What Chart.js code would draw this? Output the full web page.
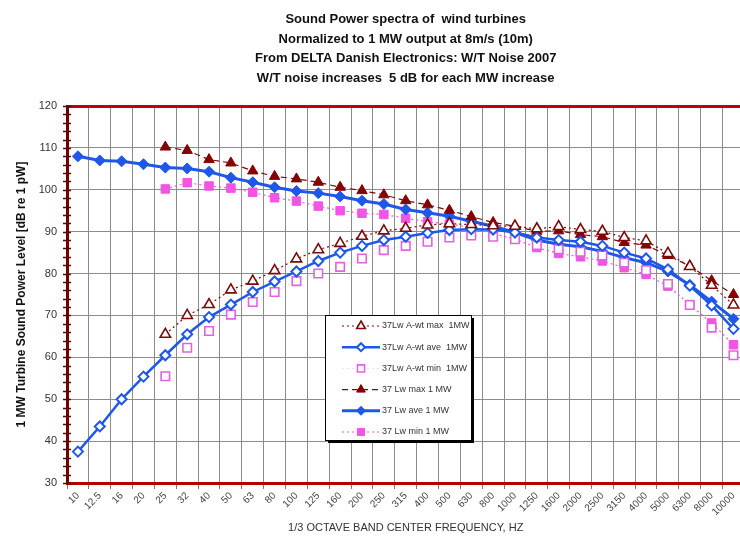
<!DOCTYPE html>
<html>
<head>
<meta charset="utf-8">
<script src="https://cdn.jsdelivr.net/npm/chart.js@4.4.0/dist/chart.umd.min.js"></script>
<style>
  html, body { margin: 0; padding: 0; background: #fff; overflow: hidden; }
  /* plot runs slightly past the right edge of the page */
  #wrap { width: 752px; height: 538px; }
</style>
</head>
<body>
<div id="wrap"><canvas id="spectra"></canvas></div>
<script>
// 1/3 octave band centre frequencies, Hz
const FREQS = ["10", "12.5", "16", "20", "25", "32", "40", "50", "63", "80", "100", "125", "160", "200", "250", "315",
  "400", "500", "630", "800", "1000", "1250", "1600", "2000", "2500", "3150", "4000", "5000", "6300", "8000", "10000"];

// max / min curves start at 25 Hz
const NA = [null, null, null, null];

const AWT_MAX = NA.concat([65.5, 70.0, 72.6, 76.1, 78.2, 80.7, 83.5, 85.7, 87.2, 88.9, 90.2, 90.8, 91.6, 91.9,
  91.7, 91.4, 91.3, 90.7, 91.2, 90.5, 90.1, 88.6, 87.8, 84.8, 81.7, 77.2, 72.5]);
const AWT_AVE = [37.5, 43.5, 50.0, 55.4, 60.5, 65.5, 69.6, 72.6, 75.6, 78.1, 80.5, 83.0, 85.0, 86.6, 88.0, 88.8,
  89.7, 90.4, 90.6, 90.5, 89.8, 88.6, 88.0, 87.6, 86.6, 85.0, 83.6, 81.0, 77.1, 72.4, 66.8];
const AWT_MIN = NA.concat([55.5, 62.3, 66.3, 70.2, 73.2, 75.6, 78.2, 80.0, 81.6, 83.6, 85.6, 86.6, 87.6, 88.6,
  89.1, 88.8, 88.2, 86.8, 85.8, 85.2, 84.3, 82.6, 80.8, 77.5, 72.5, 67.1, 60.5]);

const LW_MAX = NA.concat([110.2, 109.4, 107.2, 106.4, 104.5, 103.2, 102.6, 101.8, 100.6, 99.8, 98.8, 97.4, 96.4, 95.1,
  93.6, 92.2, 91.3, 90.1, 90.2, 89.3, 88.8, 87.4, 86.8, 84.3, 81.8, 78.3, 75.0]);
const LW_AVE = [108.0, 107.0, 106.8, 106.1, 105.3, 105.1, 104.3, 102.9, 101.8, 100.6, 99.7, 99.2, 98.4, 97.4, 96.6, 95.3,
  94.5, 93.7, 92.5, 91.3, 89.8, 88.0, 87.0, 86.4, 85.3, 83.8, 82.6, 80.5, 77.3, 73.3, 69.2];
const LW_MIN = NA.concat([100.2, 101.7, 100.9, 100.4, 99.4, 98.1, 97.3, 96.1, 95.0, 94.4, 94.1, 93.2, 92.4, 91.8,
  91.0, 89.6, 88.2, 86.2, 84.8, 84.0, 83.0, 81.4, 79.8, 77.0, 72.6, 68.2, 63.0]);

const TITLE_LINES = [
  "Sound Power spectra of  wind turbines",
  "Normalized to 1 MW output at 8m/s (10m)",
  "From DELTA Danish Electronics: W/T Noise 2007",
  "W/T noise increases  5 dB for each MW increase"
];

const NARROW = '"Liberation Sans Narrow", "Arial Narrow", "Liberation Sans", Arial, sans-serif';
const DARK_RED = "#7d0a0a";
const BLUE = "#1f58e8";
const PINK = "#f055e4";

function series(label, data, style) {
  return Object.assign({ label, data, tension: 0, fill: false, spanGaps: false, pointHoverRadius: 0 }, style);
}

const datasets = [
  series("37Lw A-wt max  1MW", AWT_MAX, {
    borderColor: DARK_RED, borderWidth: 1.2, borderDash: [2, 3],
    pointStyle: "triangle", pointRadius: 6, pointBackgroundColor: "#fff", pointBorderColor: DARK_RED, pointBorderWidth: 1.6
  }),
  series("37Lw A-wt ave  1MW", AWT_AVE, {
    borderColor: BLUE, borderWidth: 2.5,
    pointStyle: "rectRot", pointRadius: 5, pointBackgroundColor: "#fff", pointBorderColor: BLUE, pointBorderWidth: 2
  }),
  series("37Lw A-wt min  1MW", AWT_MIN, {
    borderColor: "rgba(240,130,230,0.35)", borderWidth: 1, borderDash: [2, 3],
    pointStyle: "rect", pointRadius: 6, pointBackgroundColor: "#fff", pointBorderColor: "#e064dc", pointBorderWidth: 1.6
  }),
  series("37 Lw max 1 MW", LW_MAX, {
    borderColor: DARK_RED, borderWidth: 1.2, borderDash: [6, 4],
    pointStyle: "triangle", pointRadius: 6, pointBackgroundColor: "#860000", pointBorderColor: "#860000", pointBorderWidth: 1
  }),
  series("37 Lw ave 1 MW", LW_AVE, {
    borderColor: BLUE, borderWidth: 3,
    pointStyle: "rectRot", pointRadius: 5.5, pointBackgroundColor: BLUE, pointBorderColor: BLUE, pointBorderWidth: 1
  }),
  series("37 Lw min 1 MW", LW_MIN, {
    borderColor: PINK, borderWidth: 1.2, borderDash: [2, 3],
    pointStyle: "rect", pointRadius: 6, pointBackgroundColor: PINK, pointBorderColor: PINK, pointBorderWidth: 1
  })
];

// small cross ticks every 2 dB along the left axis
const yMinorTicks = {
  id: "yMinorTicks",
  afterDraw(chart) {
    const y = chart.scales.y, ctx = chart.ctx, x0 = chart.chartArea.left;
    ctx.save();
    ctx.strokeStyle = "#5e0000";
    ctx.lineWidth = 1.5;
    for (let v = y.min; v <= y.max; v += 2) {
      const py = Math.round(y.getPixelForValue(v)) + 0.5;
      ctx.beginPath();
      ctx.moveTo(x0 - 4, py);
      ctx.lineTo(x0 + 4, py);
      ctx.stroke();
    }
    ctx.restore();
  }
};

// boxed legend with a drop shadow, drawn inside the plot
const boxLegend = {
  id: "boxLegend",
  afterDraw(chart) {
    const ctx = chart.ctx;
    const x = 325, y = 315, w = 146, h = 125;
    ctx.save();
    ctx.fillStyle = "#000";
    ctx.fillRect(x + 3, y + 3, w, h);
    ctx.fillStyle = "#fff";
    ctx.fillRect(x, y, w, h);
    ctx.strokeStyle = "#000";
    ctx.lineWidth = 1;
    ctx.strokeRect(x + 0.5, y + 0.5, w, h);

    chart.data.datasets.forEach((ds, i) => {
      const ry = y + 11 + i * 21.2;
      ctx.setLineDash(ds.borderDash || []);
      ctx.strokeStyle = ds.borderColor;
      ctx.lineWidth = ds.borderWidth;
      ctx.beginPath();
      ctx.moveTo(x + 17, ry);
      ctx.lineTo(x + 55, ry);
      ctx.stroke();
      ctx.setLineDash([]);

      ctx.fillStyle = ds.pointBackgroundColor;
      ctx.strokeStyle = ds.pointBorderColor;
      ctx.lineWidth = ds.pointBorderWidth;
      Chart.helpers.drawPoint(ctx, {
        pointStyle: ds.pointStyle, radius: ds.pointRadius - 1, borderWidth: ds.pointBorderWidth, rotation: 0
      }, x + 36, ry);

      ctx.fillStyle = "#333";
      ctx.font = "9px " + NARROW;
      ctx.textBaseline = "middle";
      ctx.fillText(ds.label, x + 57, ry);
    });
    ctx.restore();
  }
};

new Chart(document.getElementById("spectra"), {
  type: "line",
  data: { labels: FREQS, datasets },
  options: {
    responsive: true,
    maintainAspectRatio: false,
    animation: false,
    events: [],
    plugins: {
      legend: { display: false },
      tooltip: { enabled: false },
      title: {
        display: true,
        fullSize: false,
        text: TITLE_LINES,
        color: "#111",
        font: { family: NARROW, size: 13, weight: "bold", lineHeight: 1.5 },
        padding: { top: 10, bottom: 18 }
      }
    },
    scales: {
      x: {
        offset: true,
        grid: { offset: true, color: "#8c8c8c", lineWidth: 1, tickLength: 6, tickColor: "#777" },
        border: { color: "#b00000", width: 3 },
        ticks: {
          autoSkip: false, minRotation: 45, maxRotation: 45, padding: 1,
          color: "#444", font: { family: NARROW, size: 10 }
        },
        title: {
          display: true,
          text: "1/3 OCTAVE BAND CENTER FREQUENCY, HZ",
          color: "#333",
          font: { family: NARROW, size: 11 },
          padding: { top: 0, bottom: 3 }
        },
        afterFit: (s) => { s.height = 55; }
      },
      y: {
        min: 30,
        max: 120,
        ticks: { stepSize: 10, padding: 10, color: "#333", font: { family: NARROW, size: 11 } },
        grid: {
          drawTicks: false,
          color: (c) => (c.tick && c.tick.value === 120 ? "#c00000" : "#8c8c8c"),
          lineWidth: (c) => (c.tick && c.tick.value === 120 ? 3 : 1)
        },
        border: { color: "#6e0000", width: 3 },
        title: {
          display: true,
          text: "1 MW Turbine Sound Power Level [dB re 1 pW]",
          color: "#111",
          font: { family: NARROW, size: 12, weight: "bold" },
          padding: { top: 14, bottom: 0 }
        },
        afterFit: (s) => { s.width = 67; }
      }
    }
  },
  plugins: [yMinorTicks, boxLegend]
});
</script>
</body>
</html>
